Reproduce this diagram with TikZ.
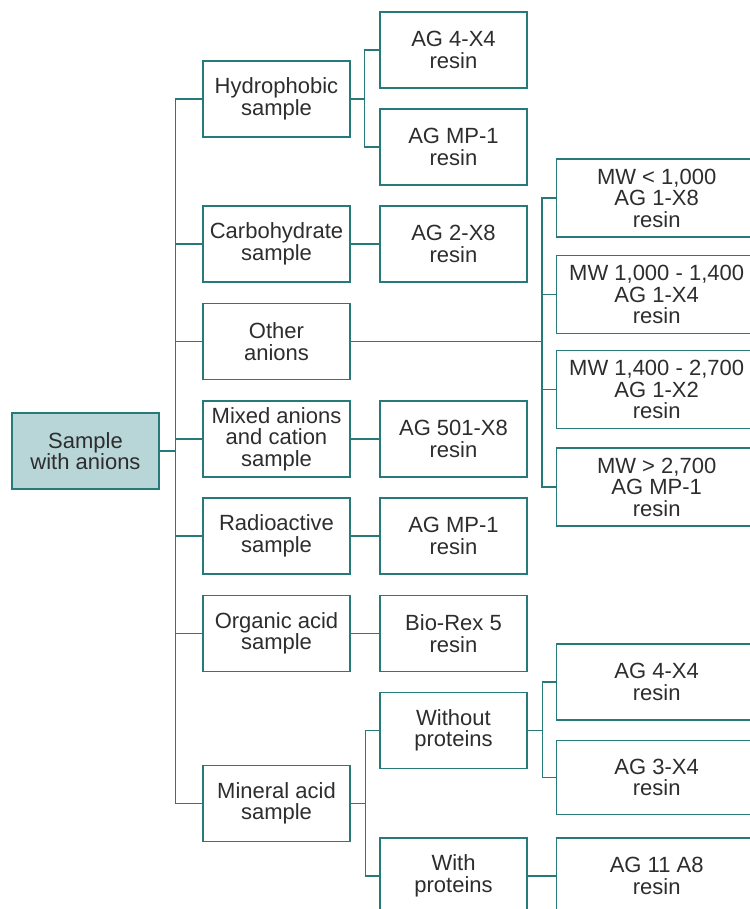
\documentclass[tikz,border=0pt]{standalone}
\usepackage{fontspec}
\setmainfont{Liberation Sans}
\usepackage{tikz}
\usetikzlibrary{positioning}
\definecolor{tealline}{RGB}{38,122,122}
\definecolor{tealfill}{RGB}{184,213,216}
\definecolor{txtgray}{RGB}{45,45,45}

\begin{document}
\begin{tikzpicture}[x=1pt,y=1pt]
\tikzstyle{every node}=[font=\fontsize{22}{21.5}\selectfont, text=txtgray, align=center]
\tikzstyle{box}=[draw=tealline, line width=1.3pt, minimum width=147pt, minimum height=76pt, inner sep=0pt]
\tikzstyle{widebox}=[box, minimum width=200pt, minimum height=78pt, anchor=west]
\tikzstyle{rootbox}=[box, fill=tealfill]
\tikzstyle{link}=[draw=tealline, line width=1.4pt]
\useasboundingbox (0,0) rectangle (749,909);
% root
\node [rootbox] (root) at (85.5,458) {Sample\\with anions};
% sample types
\node [box] (hyd) at (276.5,810) {Hydrophobic\\sample};
\node [box] (carb) at (276.5,665) {Carbohydrate\\sample};
\node [box] (oth) at (276.5,567.5) {Other\\anions};
\node [box] (mix) at (276.5,470) {Mixed anions\\and cation\\sample};
\node [box] (rad) at (276.5,373) {Radioactive\\sample};
\node [box] (org) at (276.5,275.5) {Organic acid\\sample};
\node [box] (mina) at (276.5,105.5) {Mineral acid\\sample};
% resins
\node [box] (hydA) at (453.5,859) {AG 4-X4\\resin};
\node [box] (hydB) at (453.5,762) {AG MP-1\\resin};
\node [box] (carbA) at (453.5,665) {AG 2-X8\\resin};
\node [box] (mixA) at (453.5,470) {AG 501-X8\\resin};
\node [box] (radA) at (453.5,373) {AG MP-1\\resin};
\node [box] (orgA) at (453.5,275.5) {Bio-Rex 5\\resin};
\node [box] (wo) at (453.5,178.5) {Without\\proteins};
\node [box] (wi) at (453.5,33) {With\\proteins};
% wide boxes
\node [widebox] (mw1) at (556,711) {MW < 1,000\\AG 1-X8\\resin};
\node [widebox] (mw2) at (556,614.5) {MW 1,000 - 1,400\\AG 1-X4\\resin};
\node [widebox] (mw3) at (556,519.5) {MW 1,400 - 2,700\\AG 1-X2\\resin};
\node [widebox] (mw4) at (556,422) {MW > 2,700\\AG MP-1\\resin};
\node [widebox, minimum height=76pt] (woA) at (556,227) {AG 4-X4\\resin};
\node [widebox, minimum height=74pt] (woB) at (556,131.5) {AG 3-X4\\resin};
\node [widebox, minimum height=76pt] (wiA) at (556,33) {AG 11 A8\\resin};
% connectors
\coordinate (trunk) at ([xshift=16pt]root.east);
\draw [link] (root.east) -- (trunk);
\foreach \n in {hyd,carb,oth,mix,rad,org,mina}
  \draw [link] (trunk) |- (\n.west);
\coordinate (hydfork) at ([xshift=14pt]hyd.east);
\draw [link] (hyd.east) -- (hydfork);
\draw [link] (hydfork) |- (hydA.west);
\draw [link] (hydfork) |- (hydB.west);
\draw [link] (carb.east) -- (carbA.west);
\draw [link] (mix.east) -- (mixA.west);
\draw [link] (rad.east) -- (radA.west);
\draw [link] (org.east) -- (orgA.west);
\coordinate (othfork) at ([xshift=-14pt]mw1.west |- oth.east);
\draw [link] (oth.east) -- (othfork);
\foreach \n in {mw1,mw2,mw3,mw4}
  \draw [link] (othfork) |- (\n.west);
\coordinate (minfork) at ([xshift=15pt]mina.east);
\draw [link] (mina.east) -- (minfork);
\draw [link] (minfork) |- (wo.west);
\draw [link] (minfork) |- (wi.west);
\coordinate (wofork) at ([xshift=15pt]wo.east);
\draw [link] (wo.east) -- (wofork);
\draw [link] (wofork) |- (woA.west);
\draw [link] (wofork) |- (woB.west);
\draw [link] (wi.east) -- (wiA.west);
\end{tikzpicture}
\end{document}
